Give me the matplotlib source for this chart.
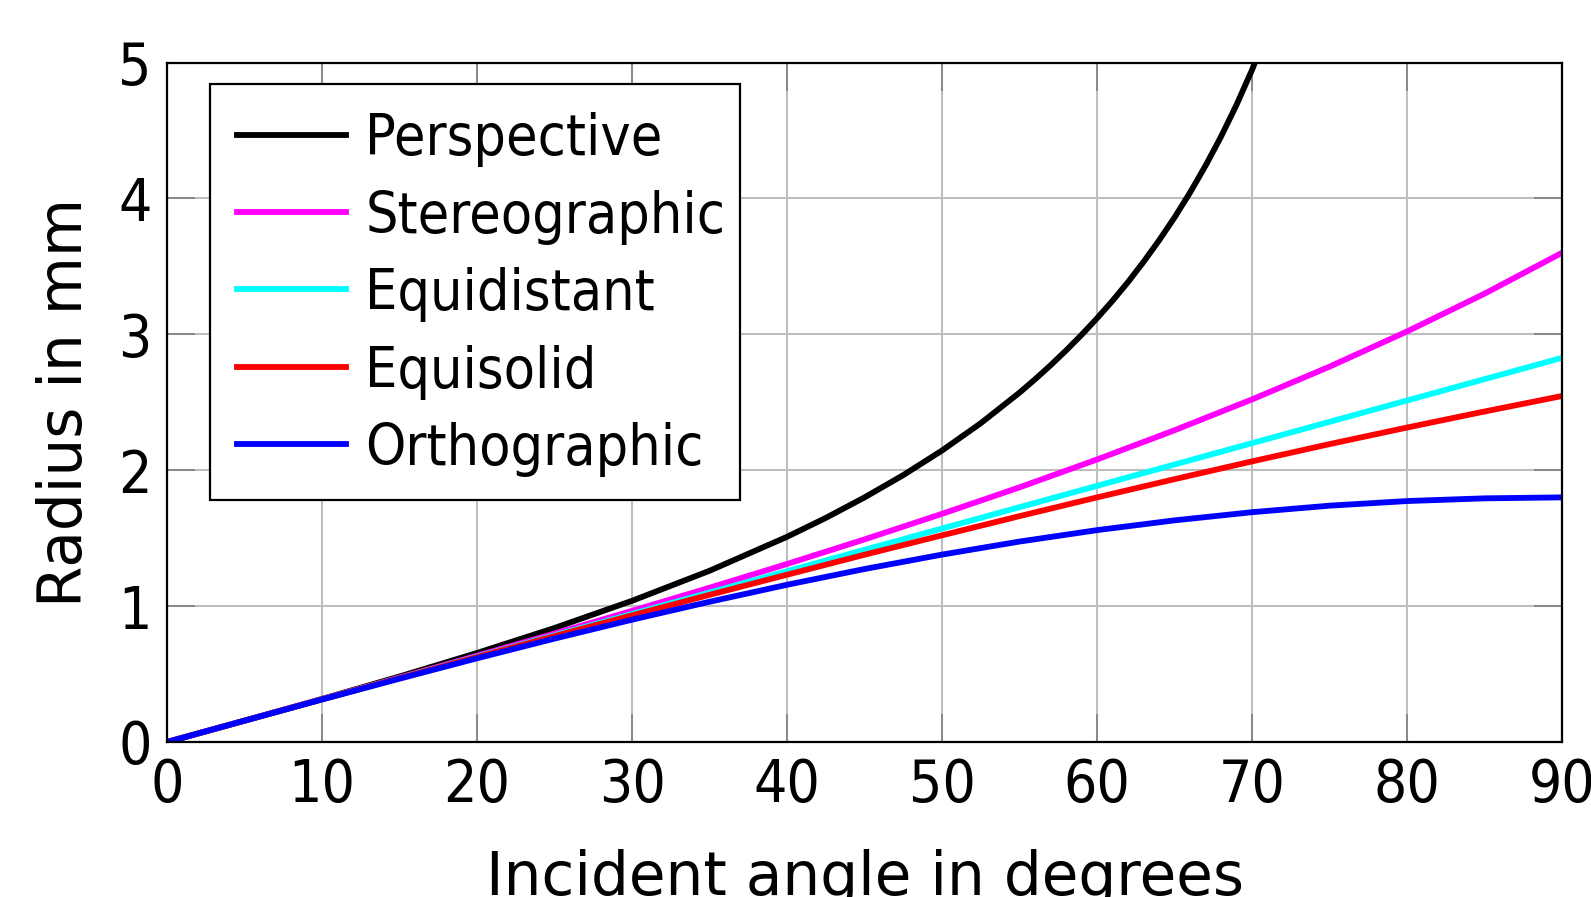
import matplotlib
matplotlib.use("Agg")
import matplotlib.pyplot as plt
import numpy as np
from matplotlib.legend_handler import HandlerLine2D

# incident angle (degrees) and image radius (mm)
angles = [0, 5, 10, 15, 20, 25, 30, 35, 40, 45, 50, 55, 60, 65, 70, 75, 80, 85, 90]
angles_persp = [0, 5, 10, 15, 20, 25, 30, 35, 40, 42.5, 45, 47.5, 50, 52.5, 55,
                56, 57, 58, 59, 60, 61, 62, 63, 64, 65, 66, 67, 68, 69, 70, 71]

perspective = [0, 0.157, 0.317, 0.482, 0.655, 0.839, 1.039, 1.260, 1.510, 1.649,
               1.800, 1.964, 2.145, 2.346, 2.571, 2.669, 2.772, 2.881, 2.996,
               3.118, 3.247, 3.385, 3.533, 3.691, 3.860, 4.043, 4.241, 4.455,
               4.689, 4.946, 5.228]
stereographic = [0, 0.157, 0.315, 0.474, 0.635, 0.798, 0.965, 1.135, 1.310, 1.491,
                 1.679, 1.874, 2.079, 2.294, 2.521, 2.762, 3.021, 3.299, 3.600]
equidistant = [0, 0.157, 0.314, 0.471, 0.628, 0.785, 0.942, 1.100, 1.257, 1.414,
               1.571, 1.728, 1.885, 2.042, 2.199, 2.356, 2.513, 2.670, 2.827]
equisolid = [0, 0.157, 0.314, 0.470, 0.625, 0.779, 0.932, 1.083, 1.231, 1.378,
             1.521, 1.662, 1.800, 1.934, 2.065, 2.192, 2.314, 2.432, 2.546]
orthographic = [0, 0.157, 0.313, 0.466, 0.616, 0.761, 0.900, 1.032, 1.157, 1.273,
                1.379, 1.475, 1.559, 1.631, 1.691, 1.739, 1.773, 1.793, 1.800]

x_ticks = [0, 10, 20, 30, 40, 50, 60, 70, 80, 90]
y_ticks = [0, 1, 2, 3, 4, 5]


class LoweredLine(HandlerLine2D):
    """Legend line moved down to sit at the middle of the capital letters."""
    def create_artists(self, legend, orig_handle, xdescent, ydescent, width,
                       height, fontsize, trans):
        arts = super().create_artists(legend, orig_handle, xdescent, ydescent,
                                      width, height, fontsize, trans)
        for a in arts:
            a.set_ydata(np.asarray(a.get_ydata()) - 0.135 * fontsize)
        return arts


fig = plt.figure(figsize=(15.91, 8.97), dpi=100)
ax = fig.add_axes([0.1050, 0.1728, 0.8768, 0.7575])

lw = 4.2
ax.plot(angles_persp, perspective, color="black", lw=lw, label="Perspective")
ax.plot(angles, stereographic, color="magenta", lw=lw, label="Stereographic")
ax.plot(angles, equidistant, color="cyan", lw=lw, label="Equidistant")
ax.plot(angles, equisolid, color="red", lw=lw, label="Equisolid")
ax.plot(angles, orthographic, color="blue", lw=lw, label="Orthographic")

ax.set_xlim(0, 90)
ax.set_ylim(0, 5)
ax.set_xticks(x_ticks)
ax.set_yticks(y_ticks)
ax.grid(True, color="#bebebe", lw=1.5)
ax.set_axisbelow(True)
for s in ax.spines.values():
    s.set_linewidth(1.6)
    s.set_zorder(5)

ax.tick_params(direction="in", length=20, width=1.2, color="#808080",
               top=True, right=True, pad=11, labelsize=42)
for lab in ax.get_xticklabels() + ax.get_yticklabels():
    lab.set_fontstretch("condensed")

ax.set_xlabel("Incident angle in degrees", fontsize=43, labelpad=25)
ax.set_ylabel("Radius in mm", fontsize=43, labelpad=16.5)

# tall handle boxes give the rows their height; xpad moves the line start inwards
leg = ax.legend(loc="upper left", bbox_to_anchor=(0.0308, 0.9684), borderaxespad=0,
                fancybox=False, edgecolor="black", framealpha=1,
                prop={"family": "DejaVu Sans", "stretch": "condensed", "size": 41},
                handlelength=2.14, handleheight=1.715, handletextpad=0.34,
                labelspacing=0.0, borderpad=0.25,
                handler_map={plt.Line2D: LoweredLine(xpad=0.23)})
leg.get_frame().set_linewidth(1.6)

fig.savefig("out.png", dpi=100)
